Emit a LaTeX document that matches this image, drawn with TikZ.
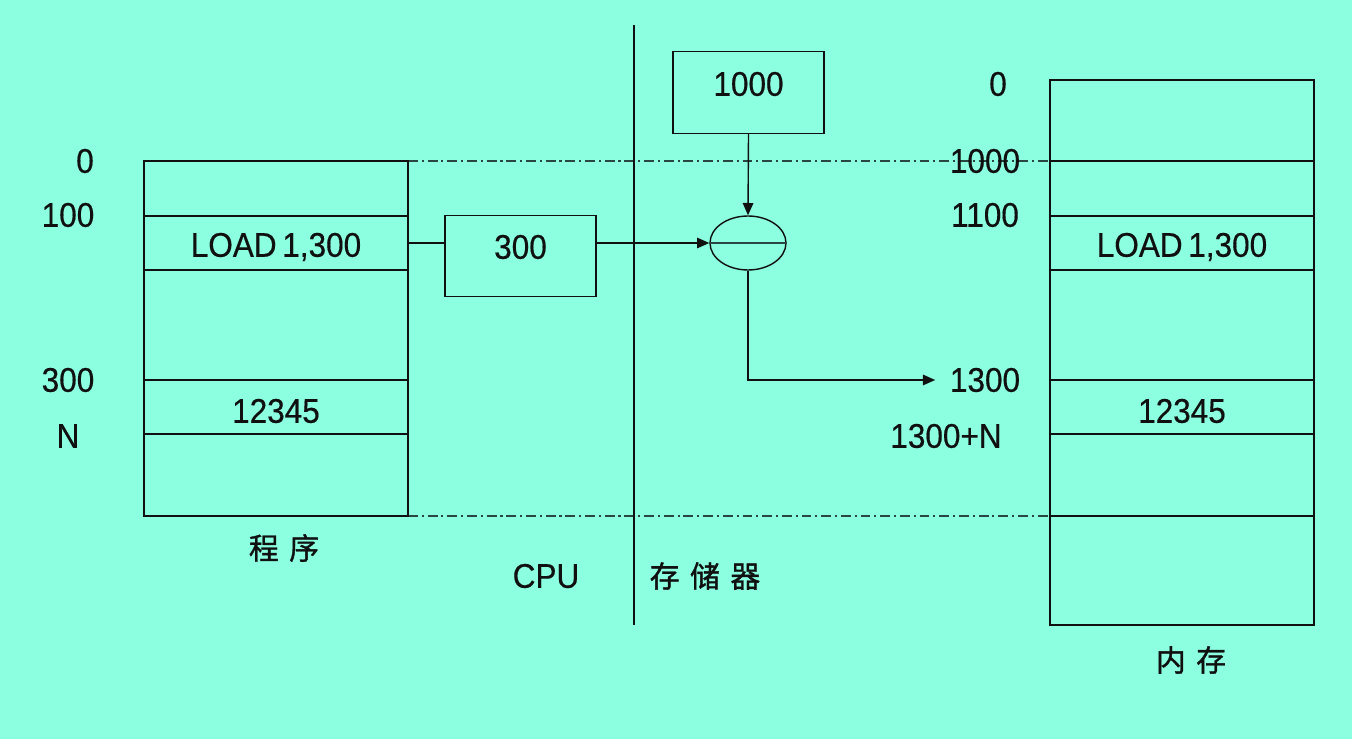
\documentclass[tikz,border=0pt]{standalone}
\usepackage{fontspec}
\setmainfont{Liberation Sans}[FakeStretch=0.92, FakeBold=0.4]
\newfontfamily\cjk{Noto Sans CJK SC}[FakeBold=1.2]
\usetikzlibrary{arrows.meta,shapes.geometric}
\definecolor{SeaFoam}{HTML}{8CFFE0}
\definecolor{LineInk}{HTML}{101010}
\definecolor{GuideInk}{HTML}{2A4640}

\tikzset{
	numlabel/.style={font=\fontsize{19.5}{21}\selectfont, inner sep=0pt},
	cjklabel/.style={font=\cjk\fontsize{17}{19}\selectfont, inner sep=0pt},
	regbox/.style={draw=LineInk, inner sep=0pt, minimum width=3.02cm, minimum height=1.63cm},
	guide/.style={GuideInk, dash pattern=on 5.6pt off 2.2pt on 1.2pt off 2.2pt},
	arr/.style={-{Triangle[length=7pt, width=6pt]}}
}

\begin{document}
\begin{tikzpicture}[x=0.02cm, y=-0.02cm, line width=0.8pt, LineInk]
				% background, pixel grid of the reference
				\fill[SeaFoam] (0,0) rectangle (1352,739);
				\useasboundingbox (0,0) rectangle (1352,739);

				% dash-dot guides between program and memory
				\draw[guide] (408,161) -- (1050,161);
				\draw[guide] (408,516) -- (1050,516);

				% program (logical address space)
				\draw (144,161) rectangle (408,516);
				\foreach \y in {216,270,380,434}
					\draw (144,\y) -- (408,\y);
				\node[numlabel] (pload) at (276,247) {LOAD\,1,300};
				\node[numlabel] (pdata) at (276,411) {12345};
				\coordinate (pout) at (408,243);
				\node[numlabel] (p0) at (85,161) {0};
				\node[numlabel] (p100) at (68,215) {100};
				\node[numlabel] (p300) at (68,380) {300};
				\node[numlabel] (pN) at (68,436) {N};
				\node[cjklabel] (prog) at (284,548) {程\hspace{0.35em}序};

				% CPU / memory divider
				\draw (634,25) -- (634,625);
				\node[numlabel] (cpu) at (546,576) {CPU};
				\node[cjklabel] (store) at (705,576) {存\hspace{0.35em}储\hspace{0.35em}器};

				% address register and base register
				\node[regbox] (addr) at (520.5,256) {};
				\node[numlabel] at (520.5,247) {300};
				\node[regbox] (base) at (748.5,92.5) {};
				\node[numlabel] at (748.5,84) {1000};

				% adder
				\node[ellipse, draw=LineInk, inner sep=0pt, minimum width=1.52cm, minimum height=1.08cm] (adder) at (748,243) {};
				\draw[GuideInk] (adder.west) -- (adder.east);

				\draw (pout) -- (pout -| addr.west);
				\draw[arr] (addr.east |- adder.west) -- (adder.west);
				\draw[arr] (base.south) -- (adder.north);

				% physical memory
				\draw (1050,80) rectangle (1314,625);
				\foreach \y in {161,216,270,380,434,516}
					\draw (1050,\y) -- (1314,\y);
				\node[numlabel] (mload) at (1182,247) {LOAD\,1,300};
				\node[numlabel] (mdata) at (1182,411) {12345};
				\node[numlabel] (m0) at (998,84) {0};
				\node[numlabel] (m1000) at (985,161) {1000};
				\node[numlabel] (m1100) at (985,215) {1100};
				\node[numlabel, inner sep=8pt] (m1300) at (985,380) {1300};
				\node[numlabel] (mN) at (946,436) {1300+N};
				\node[cjklabel] (mem) at (1191,660) {内\hspace{0.35em}存};

				\draw[arr] (adder.south) |- (m1300.west);
			\end{tikzpicture}
\end{document}
